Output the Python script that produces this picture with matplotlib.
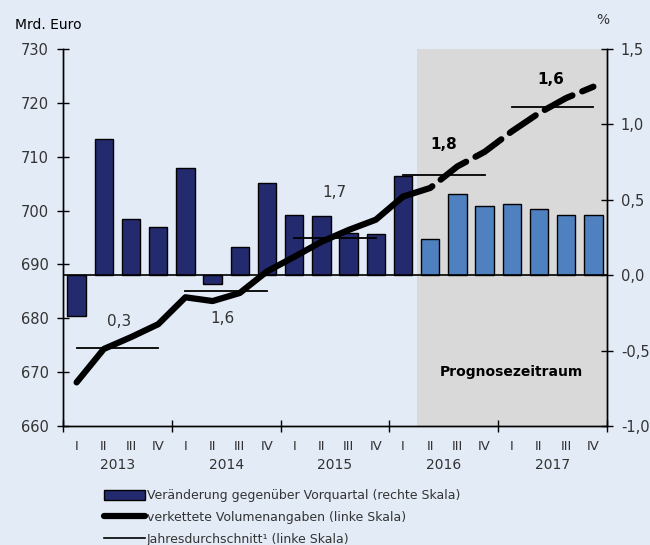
import matplotlib
matplotlib.use("Agg")
import matplotlib.pyplot as plt
from matplotlib.patches import Patch
from matplotlib.lines import Line2D
import numpy as np

quarters = ["I", "II", "III", "IV"] * 5
years = ["2013", "2014", "2015", "2016", "2017"]
# quarter-on-quarter change (% , right axis)
change = [-0.27, 0.90, 0.37, 0.32, 0.71, -0.06, 0.19, 0.61, 0.40, 0.39,
          0.28, 0.27, 0.66, 0.24, 0.54, 0.46, 0.47, 0.44, 0.40, 0.40]
# chained volumes (bn euro, left axis)
volume = [668.1, 674.3, 676.5, 678.9, 683.9, 683.2, 684.7, 688.7, 691.4, 694.2,
          696.4, 698.3, 702.6, 704.2, 708.2, 710.9, 714.7, 718.1, 720.9, 723.0]
# annual averages (left axis) and annual growth labels
annual_avg = [674.4, 685.0, 694.9, 706.6, 719.2]
annual_growth = ["0,3", "1,6", "1,7", "1,8", "1,6"]
forecast_start = 13  # index of first forecast quarter (2016 II)

BG = "#e3ebf6"
DARK = "#232b6e"
LIGHT = "#4f81c0"
GRAY = "#d9d9d9"
TXT = "#333333"

fig = plt.figure(figsize=(6.5, 5.45), dpi=100, facecolor=BG)
ax = fig.add_axes([63/650, 1-426/545, (607-63)/650, (426-49)/545])
ax2 = ax.twinx()

n = len(change)
x = np.arange(n) + 0.5

# forecast shading
ax2.axvspan(forecast_start, n, color=GRAY, zorder=0, lw=0)
colors = [DARK if i < forecast_start else LIGHT for i in range(n)]
ax2.bar(x, change, width=0.68, color=colors, edgecolor="black", linewidth=1.0, zorder=2)
ax2.axhline(0, color="black", lw=1.2, zorder=3)
ax2.set_ylim(-1.0, 1.5)
ax2.set_yticks([-1.0, -0.5, 0.0, 0.5, 1.0, 1.5])
ax2.set_yticklabels(["-1,0", "-0,5", "0,0", "0,5", "1,0", "1,5"])

ax.set_zorder(ax2.get_zorder() + 1)
ax.patch.set_visible(False)
ax2.patch.set_visible(False)

# volume line: solid history, dashed forecast
ax.plot(x[:forecast_start], volume[:forecast_start], color="black", lw=4.5,
        solid_capstyle="round", solid_joinstyle="round", zorder=5)
ax.plot(x[forecast_start-1:], volume[forecast_start-1:], color="black", lw=4.5,
        dashes=(5.0, 1.7), dash_capstyle="round", zorder=5)

# annual averages
label_pos = [(2.06, 679.4, False), (5.88, 679.9, False), (9.96, 703.3, False),
             (14.0, 712.2, True), (17.95, 724.4, True)]
for k in range(5):
    ax.plot([4*k + 0.5, 4*k + 3.5], [annual_avg[k]]*2, color="black", lw=1.3, zorder=4)
    lx, ly, bold = label_pos[k]
    ax.text(lx, ly, annual_growth[k], ha="center", va="center", fontsize=11,
            color="black" if bold else TXT, fontweight="bold" if bold else "normal")

ax.set_xlim(0, n)
ax.set_ylim(660, 730)
ax.set_yticks(range(660, 731, 10))

ax.set_xticks(range(0, n + 1, 4))
ax.set_xticklabels([])
ax.set_xticks(x, minor=True)
ax.set_xticklabels(quarters, minor=True)
ax.tick_params(axis="x", which="minor", length=0, pad=10, labelsize=9.5, labelcolor=TXT)
ax.tick_params(axis="x", which="major", direction="inout", length=8, width=1)
ax.tick_params(axis="y", direction="inout", length=8, width=1, labelsize=10.5,
               labelcolor=TXT, pad=6)
ax2.tick_params(axis="y", direction="inout", length=8, width=1, labelsize=10.5,
                labelcolor=TXT, pad=6)

for a in (ax, ax2):
    a.spines["top"].set_visible(False)
    for s in ("left", "right", "bottom"):
        a.spines[s].set_linewidth(1.0)
        a.spines[s].set_color("black")

for k, yr in enumerate(years):
    ax.text(4*k + 2, -0.103, yr, transform=ax.get_xaxis_transform(), ha="center",
            va="center", fontsize=10, color=TXT)

ax2.text(16.5, -0.645, "Prognosezeitraum", ha="center", va="center", fontsize=10,
         fontweight="bold", color="black", zorder=6)

fig.text(15/650, 1-25/545, "Mrd. Euro", ha="left", va="center", fontsize=10, color="black")
fig.text(603/650, 1-20/545, "%", ha="center", va="center", fontsize=10, color=TXT)

handles = [Patch(facecolor=DARK, edgecolor="black", linewidth=1.0),
           Line2D([], [], color="black", lw=4.5, solid_capstyle="round"),
           Line2D([], [], color="black", lw=1.2)]
labels = ["Veränderung gegenüber Vorquartal (rechte Skala)",
          "verkettete Volumenangaben (linke Skala)",
          "Jahresdurchschnitt\u00b9 (linke Skala)"]
fig.legend(handles, labels, loc="upper left", bbox_to_anchor=(104/650, 1-489/545),
           frameon=False, fontsize=9, handlelength=3.3, handleheight=0.9,
           handletextpad=0.15, labelspacing=0.72, borderpad=0, borderaxespad=0,
           labelcolor=TXT)

fig.savefig("out.png", dpi=100, facecolor=BG)
